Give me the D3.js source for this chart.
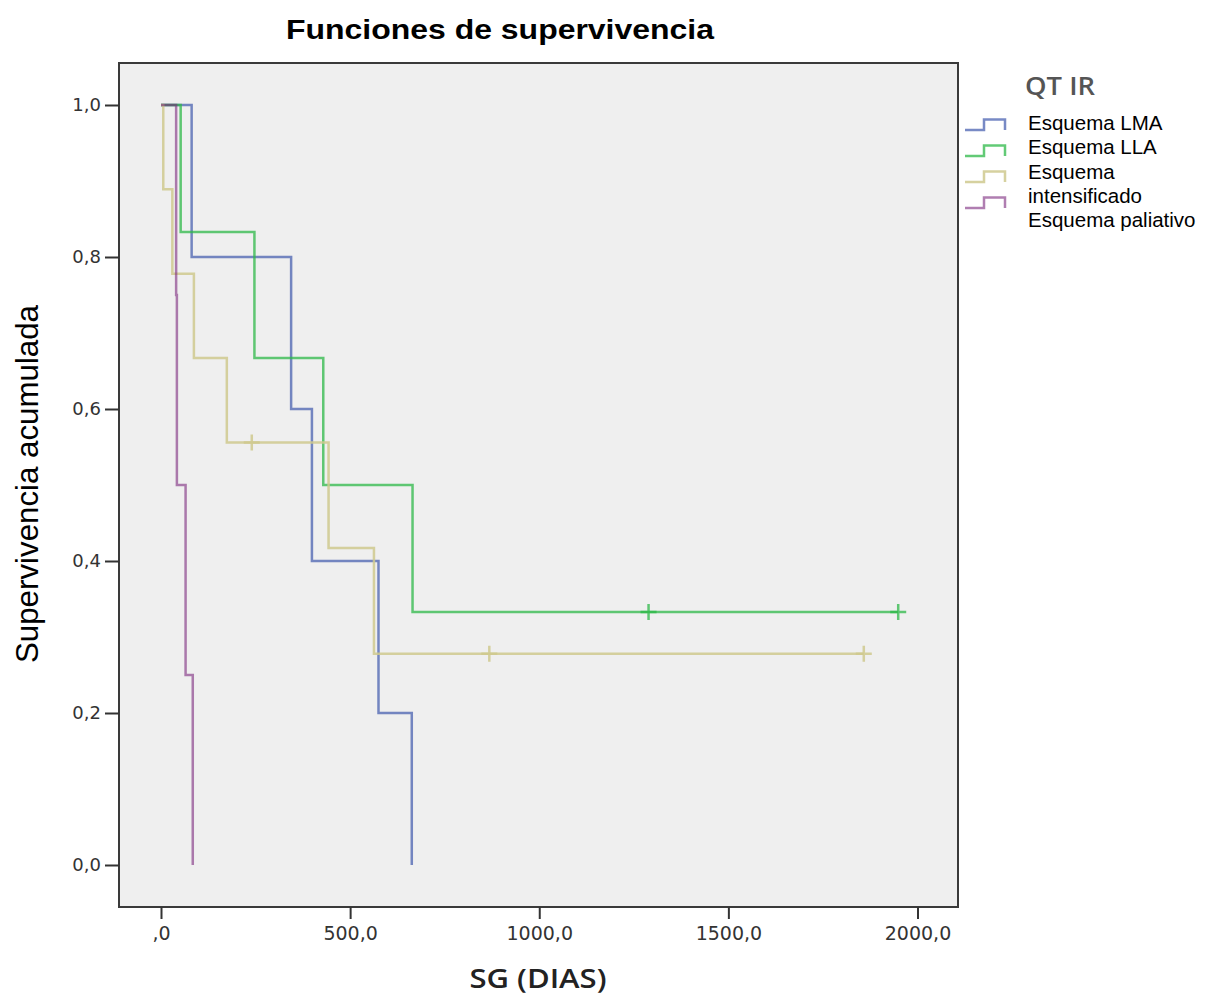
<!DOCTYPE html>
<html>
<head>
<meta charset="utf-8">
<script src="https://cdn.jsdelivr.net/npm/d3@7"></script>
<style>
body { margin: 0; background: #fff; }
</style>
</head>
<body>
<script>
// values
const groups = ["Esquema LMA", "Esquema LLA", "Esquema intensificado", "Esquema paliativo"];
const colors = ["#3e58ac", "#2eb848", "#cfc98e", "#7c287d"];
const opac = [0.7, 0.75, 0.85, 0.6];

const lmaTime = [0, 81, 344, 399, 575, 663];
const lmaSurv = [1, 0.8, 0.6, 0.4, 0.2, 0];
const lmaCens = [];

const llaTime = [0, 52, 247, 429, 665, 1949];
const llaSurv = [1, 0.833, 0.667, 0.5, 0.333, 0.333];
const llaCens = [1289, 1949];

const intTime = [0, 6, 30, 87, 174, 443, 563, 1858];
const intSurv = [1, 0.889, 0.778, 0.667, 0.556, 0.417, 0.278, 0.278];
const intCens = [240, 868, 1858];

const palTime = [0, 40, 42, 65, 84];
const palSurv = [1, 0.75, 0.5, 0.25, 0];
const palCens = [];

const xTicks = [0, 500, 1000, 1500, 2000];
const xTickLabels = [",0", "500,0", "1000,0", "1500,0", "2000,0"];
const yTicks = [0, 0.2, 0.4, 0.6, 0.8, 1.0];
const yTickLabels = ["0,0", "0,2", "0,4", "0,6", "0,8", "1,0"];

const legendLines = ["Esquema LMA", "Esquema LLA", "Esquema", "intensificado", "Esquema paliativo"];

const series = [
    {time: lmaTime, surv: lmaSurv, cens: lmaCens},
    {time: llaTime, surv: llaSurv, cens: llaCens},
    {time: intTime, surv: intSurv, cens: intCens},
    {time: palTime, surv: palSurv, cens: palCens}
];

const width = 1213, height = 999;
const frame = {left: 119, top: 63, right: 958, bottom: 907};

const svg = d3.select("body").append("svg")
    .attr("width", width)
    .attr("height", height);

const x = d3.scaleLinear().domain([0, 2000]).range([161, 917.5]);
const y = d3.scaleLinear().domain([0, 1]).range([865, 105]);

// plot background + frame
svg.append("rect")
    .attr("x", frame.left)
    .attr("y", frame.top)
    .attr("width", frame.right - frame.left)
    .attr("height", frame.bottom - frame.top)
    .attr("fill", "#efefef")
    .attr("stroke", "#3a3a3a")
    .attr("stroke-width", 2);

// axes
const yAxis = svg.append("g")
    .attr("transform", `translate(${frame.left},0)`)
    .call(d3.axisLeft(y).tickValues(yTicks).tickSize(14).tickPadding(4)
        .tickFormat((d, i) => yTickLabels[i]));
yAxis.select(".domain").remove();
yAxis.selectAll("line").attr("stroke", "#333").attr("stroke-width", 2);
yAxis.selectAll("text")
    .style("font-family", "DejaVu Sans")
    .style("font-size", "18px")
    .attr("fill", "#333");

const xAxis = svg.append("g")
    .attr("transform", `translate(0,${frame.bottom})`)
    .call(d3.axisBottom(x).tickValues(xTicks).tickSize(12).tickPadding(8)
        .tickFormat((d, i) => xTickLabels[i]));
xAxis.select(".domain").remove();
xAxis.selectAll("line").attr("stroke", "#333").attr("stroke-width", 2);
xAxis.selectAll("text")
    .style("font-family", "DejaVu Sans")
    .style("font-size", "19px")
    .attr("fill", "#333");

// survival curves
const line = d3.line()
    .x(d => x(d[0]))
    .y(d => y(d[1]))
    .curve(d3.curveStepAfter);

function survAt(s, t) {
    let v = s.surv[0];
    s.time.forEach((tt, i) => { if (tt <= t) v = s.surv[i]; });
    return v;
}

series.forEach((s, k) => {
    const pts = s.time.map((t, i) => [t, s.surv[i]]);
    svg.append("path")
        .attr("d", line(pts))
        .attr("fill", "none")
        .attr("stroke", colors[k])
        .attr("stroke-opacity", opac[k])
        .attr("stroke-width", 2.5);

    // censor marks
    s.cens.forEach(t => {
        const cx = x(t), cy = y(survAt(s, t));
        svg.append("path")
            .attr("d", `M${cx - 8},${cy}H${cx + 8}M${cx},${cy - 8}V${cy + 8}`)
            .attr("stroke", colors[k])
            .attr("stroke-opacity", opac[k])
            .attr("stroke-width", 2.5);
    });
});

// titles
svg.append("text")
    .attr("x", 500)
    .attr("y", 39)
    .attr("text-anchor", "middle")
    .attr("textLength", 428)
    .attr("lengthAdjust", "spacingAndGlyphs")
    .style("font-family", "Liberation Sans, Arial")
    .style("font-weight", "bold")
    .style("font-size", "28px")
    .text("Funciones de supervivencia");

svg.append("text")
    .attr("transform", "translate(38,484) rotate(-90)")
    .attr("text-anchor", "middle")
    .attr("textLength", 358)
    .attr("lengthAdjust", "spacingAndGlyphs")
    .style("font-family", "Liberation Sans, Arial")
    .style("font-size", "31px")
    .text("Supervivencia acumulada");

svg.append("text")
    .attr("x", 538)
    .attr("y", 988)
    .attr("text-anchor", "middle")
    .attr("textLength", 137)
    .attr("lengthAdjust", "spacingAndGlyphs")
    .style("font-family", "Open Sans")
    .style("font-weight", "600")
    .style("font-size", "27px")
    .attr("fill", "#222")
    .text("SG (DIAS)");

// legend
svg.append("text")
    .attr("x", 1025)
    .attr("y", 95)
    .attr("textLength", 70)
    .attr("lengthAdjust", "spacingAndGlyphs")
    .style("font-family", "Open Sans")
    .style("font-weight", "600")
    .style("font-size", "25px")
    .attr("fill", "#555")
    .text("QT IR");

groups.forEach((g, i) => {
    const b = 130 + i * 26, t = b - 10.5;
    svg.append("path")
        .attr("d", `M965,${b}H984V${t}H1005V${b}`)
        .attr("fill", "none")
        .attr("stroke", colors[i])
        .attr("stroke-opacity", opac[i])
        .attr("stroke-width", 2.5);
});

legendLines.forEach((l, i) => {
    svg.append("text")
        .attr("x", 1028)
        .attr("y", 130 + i * 24.3)
        .style("font-family", "Liberation Sans, Arial")
        .style("font-size", "20.5px")
        .attr("fill", "#000")
        .text(l);
});
</script>
</body>
</html>
